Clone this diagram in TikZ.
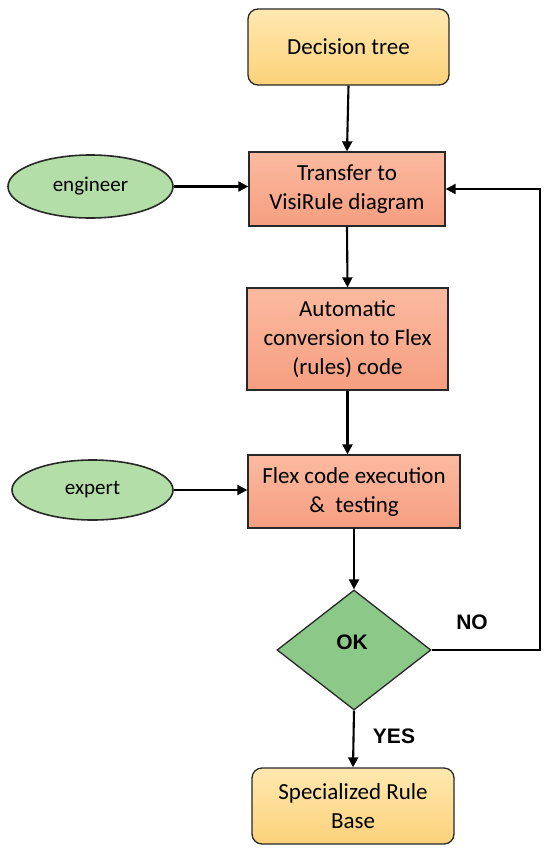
\documentclass[tikz,border=0pt]{standalone}
\usepackage{fontspec}
\setmainfont{Carlito}
\newfontfamily\lblfont{Liberation Sans}
\usetikzlibrary{shapes.geometric,arrows.meta}
\definecolor{ytop}{RGB}{255,232,176}
\definecolor{ybot}{RGB}{252,210,122}
\definecolor{stop}{RGB}{251,186,160}
\definecolor{sbot}{RGB}{246,158,128}
\definecolor{gell}{RGB}{180,222,168}
\definecolor{gdia}{RGB}{140,200,136}
\definecolor{edge}{RGB}{40,40,40}
\tikzset{
  ybox/.style={rectangle, rounded corners=10pt, draw=edge, line width=1.3pt, top color=ytop, bottom color=ybot, align=center, font=\fontsize{23}{29}\selectfont, inner sep=0pt},
  sbox/.style={rectangle, draw=edge, line width=1.3pt, top color=stop, bottom color=sbot, align=center, font=\fontsize{23}{29}\selectfont, inner sep=0pt},
  gell/.style={ellipse, draw=edge, line width=1.6pt, fill=gell, font=\fontsize{21}{25}\selectfont, inner sep=0pt},
  gdia/.style={diamond, draw=edge, line width=1.3pt, fill=gdia, inner sep=0pt, aspect=1.28},
  conn/.style={line width=2.1pt, -{Triangle[length=10pt,width=10pt]}},
  lbl/.style={font=\lblfont\bfseries\fontsize{21}{25}\selectfont}
}
\begin{document}
\begin{tikzpicture}[x=1pt,y=-1pt]
\useasboundingbox (0,0) rectangle (550,855);
\node[ybox, minimum width=201pt, minimum height=76pt] (dt) at (348.5,47) {Decision tree};
\node[sbox, minimum width=196pt, minimum height=74pt] (tr) at (347,189) {Transfer to\\VisiRule diagram};
\node[gell, minimum width=165pt, minimum height=63pt] (eng) at (90.5,186.5) {engineer};
\node[sbox, minimum width=201pt, minimum height=102pt] (au) at (347.5,339) {Automatic\\conversion to Flex\\(rules) code};
\node[sbox, minimum width=212pt, minimum height=73pt] (fx) at (354,491.5) {Flex code execution\\\&\ \ testing};
\node[gell, minimum width=161pt, minimum height=60pt] (exp) at (92.5,490) {expert};
\node[gdia, minimum width=154pt, minimum height=120pt] (ok) at (354,650) {};
\node[lbl] (oklbl) at (352,642) {OK};
\node[lbl] (nolbl) at (472,622) {NO};
\node[lbl] (yeslbl) at (394,736) {YES};
\node[ybox, minimum width=202pt, minimum height=76pt] (sr) at (353,806) {Specialized Rule\\Base};
\coordinate (fb) at (540,650);
\draw[conn] (dt.south) -- (tr.north);
\draw[conn] (tr.south) -- (au.north);
\draw[conn] (au.south) -- (au.south |- fx.north);
\draw[conn] (fx.south -| ok.north) -- (ok.north);
\draw[conn] (ok.south) -- (sr.north);
\draw[conn] (eng.east) -- (eng.east -| tr.west);
\draw[conn] (exp.east) -- (exp.east -| fx.west);
\draw[conn] (ok.east) -- (fb) |- (tr.east);
\end{tikzpicture}
\end{document}
